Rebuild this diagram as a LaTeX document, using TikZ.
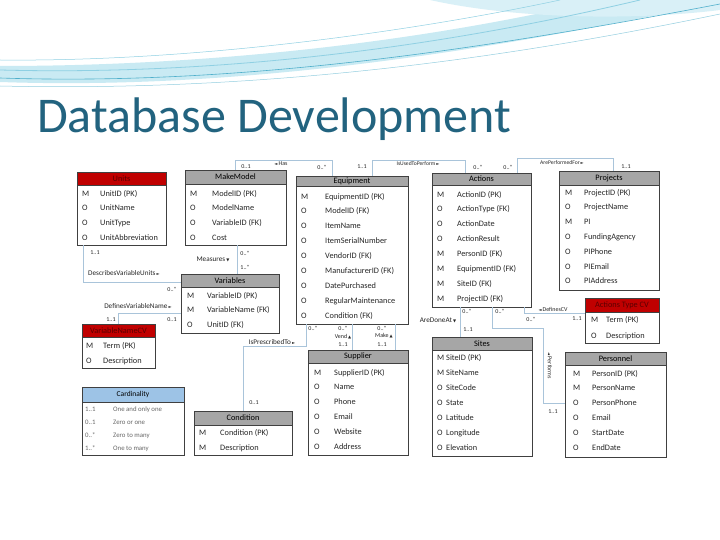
\documentclass[tikz,border=0pt]{standalone}
\usepackage{fontspec}
\setmainfont{Carlito}
\newfontfamily\sym{DejaVu Sans}
\usetikzlibrary{calc}
\definecolor{hdrgray}{HTML}{A6A6A6}
\definecolor{hdrred}{HTML}{C00000}
\definecolor{redtxt}{HTML}{5A0000}
\definecolor{connc}{HTML}{A9C4DA}
\definecolor{cardblue}{HTML}{9DC3E6}
\definecolor{titlec}{HTML}{22637F}
\definecolor{waveA}{HTML}{C9EAF3}
\definecolor{waveB}{HTML}{8FD0E3}
\definecolor{waveC}{HTML}{4FAFCB}
\newcommand\ar{{\sym\fontsize{4}{4}\selectfont ►}}
\newcommand\al{{\sym\fontsize{4}{4}\selectfont ◄}}
\newcommand\ad{{\sym\fontsize{4}{4}\selectfont ▼}}
\newcommand\au{{\sym\fontsize{4}{4}\selectfont ▲}}
\tikzset{
 tbl/.style={draw=black!75, line width=0.7pt, fill=white, inner sep=0pt, outer sep=0pt},
 hdr/.style={draw=black!75, line width=0.7pt, inner sep=0pt, outer sep=0pt, font=\fontsize{8.3}{9}\selectfont, text=black},
 rowtxt/.style={inner sep=0pt, font=\fontsize{8.3}{9}\selectfont, text height=5.8pt, text depth=1.7pt, anchor=west, text=black!85},
 cardtxt/.style={inner sep=0pt, font=\fontsize{6.8}{7}\selectfont, text height=5pt, text depth=1.5pt, anchor=west, text=black!60},
 lbl/.style={inner sep=0pt, font=\fontsize{6}{7}\selectfont, text=black!85},
 lblS/.style={inner sep=0pt, font=\fontsize{5.6}{6}\selectfont, text=black!85},
 lblL/.style={inner sep=0pt, font=\fontsize{7.2}{8}\selectfont, text=black!85},
 cn/.style={draw=connc, line width=0.6pt},
}
\newcommand\ertable[8]{%
  \node[tbl, minimum width={#4-#2}, minimum height={#6-#3}, anchor=north west] (#1) at (#2,#3) {};
  \node[hdr, fill=#7, minimum width={#4-#2}, minimum height={#5-#3}, anchor=north west] (#1-h) at (#2,#3) {#8};
}
\newcommand\errows[7]{%
  \foreach \k/\t [count=\i] in {#7} {
    \node[#6] (#1-k\i) at (#2,{#4+(\i-1)*#5}) {\k};
    \node[#6] (#1-t\i) at (#3,{#4+(\i-1)*#5}) {\t};
  }
}
\begin{document}
\begin{tikzpicture}[x=1pt,y=-1pt]
\useasboundingbox (0,0) rectangle (720,540);
\fill[white] (0,0) rectangle (720,540);
% header waves
\fill[waveA] (0,82) .. controls (230,90) and (470,55) .. (720,2) -- (720,0) -- (600,0) .. controls (430,40) and (220,66) .. (0,66) -- cycle;
\fill[waveA!70] (430,0) .. controls (520,20) and (640,20) .. (720,10) -- (720,0) -- cycle;
\draw[waveB, line width=0.8pt] (0,70) .. controls (230,76) and (450,45) .. (640,0);
\draw[waveC, line width=0.6pt] (0,78) .. controls (240,86) and (480,50) .. (720,4);
\draw[waveB, line width=0.5pt] (0,60) .. controls (200,62) and (420,30) .. (560,0);
\draw[waveC!60, line width=0.5pt] (0,86) .. controls (260,92) and (500,60) .. (720,14);
% title
\node[anchor=base west, inner sep=0pt, font=\fontsize{50}{56}\selectfont, text=titlec] (title) at (37,133) {Database Development};
% tables
\ertable{units}{77}{172}{166}{185}{245}{hdrred}{\color{redtxt}Units}
\errows{units}{82}{100}{194}{14.7}{rowtxt}{M/UnitID (PK),O/UnitName,O/UnitType,O/UnitAbbreviation}
\ertable{makemodel}{185}{170}{286}{184}{245}{hdrgray}{MakeModel}
\errows{makemodel}{190}{212}{194}{14.7}{rowtxt}{M/ModelID (PK),O/ModelName,O/VariableID (FK),O/Cost}
\ertable{equipment}{296}{176}{408}{186}{324}{hdrgray}{Equipment}
\errows{equipment}{301}{325}{197}{14.9}{rowtxt}{M/EquipmentID (PK),O/ModelID (FK),O/ItemName,O/ItemSerialNumber,O/VendorID (FK),O/ManufacturerID (FK),O/DatePurchased,O/RegularMaintenance,O/Condition (FK)}
\ertable{actions}{432}{173}{531}{185}{307}{hdrgray}{Actions}
\errows{actions}{437}{457}{195}{14.9}{rowtxt}{M/ActionID (PK),O/ActionType (FK),O/ActionDate,O/ActionResult,M/PersonID (FK),M/EquipmentID (FK),M/SiteID (FK),M/ProjectID (FK)}
\ertable{projects}{559}{171}{659}{185}{290}{hdrgray}{Projects}
\errows{projects}{565}{584}{193}{14.8}{rowtxt}{M/ProjectID (PK),O/ProjectName,M/PI,O/FundingAgency,O/PIPhone,O/PIEmail,O/PIAddress}
\ertable{variables}{181}{274}{279}{287}{333}{hdrgray}{Variables}
\errows{variables}{187}{207}{296}{14.5}{rowtxt}{M/VariableID (PK),M/VariableName (FK),O/UnitID (FK)}
\ertable{varname}{82}{324}{155}{337}{368}{hdrred}{\color{redtxt}VariableNameCV}
\errows{varname}{86}{103}{346}{15}{rowtxt}{M/Term (PK),O/Description}
\ertable{condition}{194}{411}{292}{425}{455}{hdrgray}{Condition}
\errows{condition}{199}{220}{433}{15}{rowtxt}{M/Condition (PK),M/Description}
\ertable{supplier}{308}{350}{408}{363}{455}{hdrgray}{Supplier}
\errows{supplier}{314}{334}{373}{14.8}{rowtxt}{M/SupplierID (PK),O/Name,O/Phone,O/Email,O/Website,O/Address}
\ertable{sites}{432}{337}{532}{350}{456}{hdrgray}{Sites}
\errows{sites}{437}{446}{358}{15}{rowtxt}{M/SiteID (PK),M/SiteName,O/SiteCode,O/State,O/Latitude,O/Longitude,O/Elevation}
\ertable{atcv}{585}{298}{659}{312}{343}{hdrred}{\color{redtxt}Actions Type CV}
\errows{atcv}{591}{606}{320}{16}{rowtxt}{M/Term (PK),O/Description}
\ertable{personnel}{565}{352}{666}{365}{457}{hdrgray}{Personnel}
\errows{personnel}{573}{592}{374}{14.8}{rowtxt}{M/PersonID (PK),M/PersonName,O/PersonPhone,O/Email,O/StartDate,O/EndDate}
\ertable{card}{82}{387}{184}{402}{455}{cardblue}{\fontsize{7.5}{8}\selectfont Cardinality}
\errows{card}{85}{113}{410}{13}{cardtxt}{1..1/One and only one,0..1/Zero or one,0..*/Zero to many,1..*/One to many}
% connectors
\draw[cn] ([xshift=50pt]makemodel.north west) -- ++(0,-10) -| ([xshift=36pt]equipment.north west);
\draw[cn] ([xshift=76pt]equipment.north west) -- ++(0,-16) -| ([xshift=33pt]actions.north west);
\draw[cn] ([xshift=85pt]actions.north west) -- ++(0,-15) -| ([xshift=54pt]projects.north west);
\draw[cn] ([xshift=52pt]makemodel.south west) -- ([xshift=56pt]variables.north west);
\draw[cn] ([xshift=6pt]units.south west) |- ([yshift=-8pt]variables.north west);
\draw[cn] ([xshift=36pt]varname.north west) |- ([yshift=-39pt]variables.north west);
\draw[cn] ([xshift=10pt]equipment.south west) -- ++(0,22) -| ([xshift=49pt]condition.north west);
\draw[cn] ([xshift=56pt]equipment.south west) -- ([xshift=44pt]supplier.north west);
\draw[cn] ([xshift=99pt]equipment.south west) -- ([xshift=87pt]supplier.north west);
\draw[cn] ([xshift=28pt]actions.south west) -- ([xshift=28pt]sites.north west);
\draw[cn] ([xshift=60pt]actions.south west) -- ++(0,21) -- ++(51,0) |- ([yshift=-51pt]personnel.north west);
\draw[cn] ([xshift=92pt]actions.south west) |- ([yshift=-15pt]atcv.north west);
% connector labels
\node[lbl] (l1) at (246,167) {0..1};
\node[lbl] (l2) at (281,164) {\al\,Has};
\node[lbl] (l3) at (322,167) {0..*};
\node[lbl] (l4) at (362,167) {1..1};
\node[lblS] (l5) at (418,164) {IsUsedToPerform\,\ar};
\node[lbl] (l6) at (478,167) {0..*};
\node[lbl] (l7) at (508,167) {0..*};
\node[lblS] (l8) at (562,163) {ArePerformedFor\,\ar};
\node[lbl] (l9) at (626,167) {1..1};
\node[lbl] (l10) at (245,253) {0..*};
\node[lblL] (l11) at (213,259) {Measures\,\ad};
\node[lbl] (l12) at (245,267) {1..*};
\node[lbl] (l13) at (95,253) {1..1};
\node[lblL] (l14) at (124,273) {DescribesVariableUnits\,\ar};
\node[lbl] (l15) at (172,289) {0..*};
\node[lblL] (l16) at (138,306) {DefinesVariableName\,\ar};
\node[lbl] (l17) at (111,320) {1..1};
\node[lbl] (l18) at (172,320) {0..1};
\node[lbl] (l19) at (313,328) {0..*};
\node[lblL] (l20) at (272,342) {IsPrescribedTo\,\ar};
\node[lbl] (l21) at (254,403) {0..1};
\node[lbl] (l22) at (343,328) {0..*};
\node[lbl] (l23) at (343,337) {Vend\,\au};
\node[lbl] (l24) at (343,345) {1..1};
\node[lbl] (l25) at (382,328) {0..*};
\node[lbl] (l26) at (384,336) {Make\,\au};
\node[lbl] (l27) at (382,345) {1..1};
\node[lbl] (l28) at (467,311) {0..*};
\node[lblL] (l29) at (438,320) {AreDoneAt\,\ad};
\node[lbl] (l30) at (468,330) {1..1};
\node[lbl] (l31) at (500,311) {0..*};
\node[lbl, rotate=-90] (l32) at (550,366) {\al\,Performs};
\node[lbl] (l33) at (553,412) {1..1};
\node[lbl] (l34) at (531,319) {0..*};
\node[lbl] (l35) at (553,309) {\al\,DefinesCV};
\node[lbl] (l36) at (577,319) {1..1};
\end{tikzpicture}
\end{document}
